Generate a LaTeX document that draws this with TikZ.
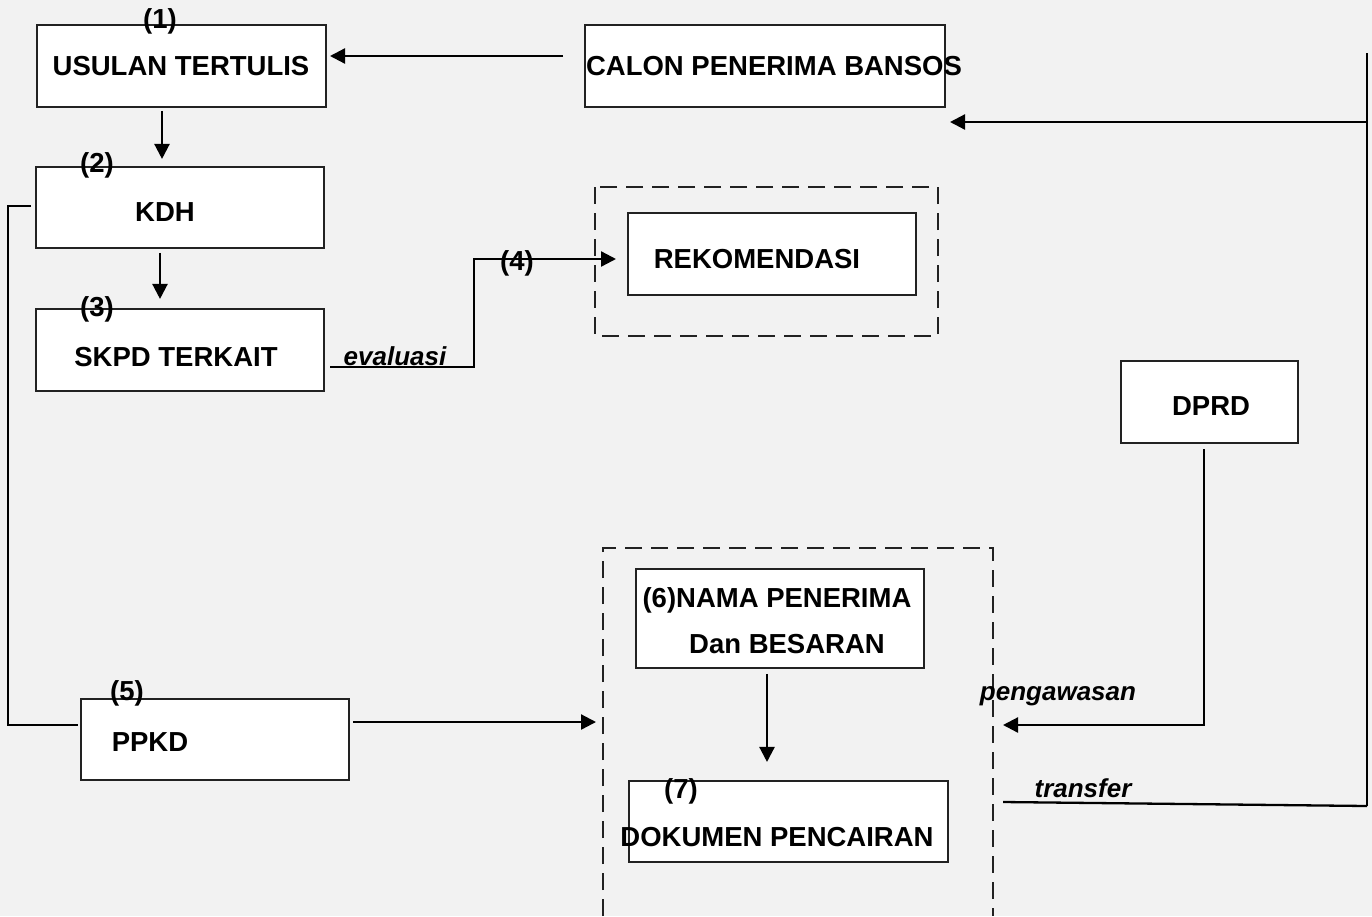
\documentclass[tikz,border=0pt]{standalone}
\usepackage{fontspec}
\setmainfont{Liberation Sans}
\usetikzlibrary{arrows.meta}
\definecolor{bg}{HTML}{F2F2F2}
\definecolor{edge}{HTML}{222222}
\tikzset{
  box/.style={draw=edge, fill=white, line width=1.9pt, inner sep=0pt},
  txt/.style={font=\fontsize{27.5}{30}\selectfont\bfseries, inner sep=0pt, anchor=base},
  itx/.style={font=\fontsize{26}{30}\selectfont\bfseries\itshape, inner sep=0pt, anchor=base},
  ln/.style={line width=2.3pt, black},
  arr/.style={ln, -{Triangle[length=15pt,width=15pt]}},
  dsh/.style={line width=1.7pt, edge, dash pattern=on 17pt off 9pt}
}
\begin{document}
\begin{tikzpicture}[x=1pt,y=-1pt]
\fill[bg] (0,0) rectangle (1372,916);
\useasboundingbox (0,0) rectangle (1372,916);
% dashed groups
\draw[dsh] (595,187) rectangle (938,336);
\draw[dsh] (603,916) -- (603,548) -- (993,548) -- (993,916);
% boxes
\node[box, minimum width=289pt, minimum height=82pt] (usulan) at (181.5,66) {};
\node[box, minimum width=360pt, minimum height=82pt] (calon) at (765,66) {};
\node[box, minimum width=288pt, minimum height=81pt] (kdh) at (180,207.5) {};
\node[box, minimum width=288pt, minimum height=82pt] (skpd) at (180,350) {};
\node[box, minimum width=288pt, minimum height=82pt] (reko) at (772,254) {};
\node[box, minimum width=177pt, minimum height=82pt] (dprd) at (1209.5,402) {};
\node[box, minimum width=288pt, minimum height=99pt] (nama) at (780,618.5) {};
\node[box, minimum width=319pt, minimum height=81pt] (dok) at (788.5,821.5) {};
\node[box, minimum width=268pt, minimum height=81pt] (ppkd) at (215,739.5) {};
% texts
\node[txt] (t1) at (160,28) {(1)};
\node[txt] (tus) at (181,75) {USULAN TERTULIS};
\node[txt] (t2) at (97,172) {(2)};
\node[txt] (tkdh) at (165,221) {KDH};
\node[txt] (t3) at (97,316) {(3)};
\node[txt] (tskpd) at (176,366) {SKPD TERKAIT};
\node[itx] (teval) at (395,365) {evaluasi};
\node[txt] (t4) at (517,270) {(4)};
\node[txt] (treko) at (757,268) {REKOMENDASI};
\node[txt] (tcalon) at (774,75) {CALON PENERIMA BANSOS};
\node[txt] (tdprd) at (1211,415) {DPRD};
\node[txt] (tnama) at (777,607) {(6)NAMA PENERIMA};
\node[txt] (tdan) at (787,653) {Dan BESARAN};
\node[txt] (t7) at (681,798) {(7)};
\node[txt] (tdok) at (777,846) {DOKUMEN PENCAIRAN};
\node[txt] (t5) at (127,700) {(5)};
\node[txt] (tppkd) at (150,751) {PPKD};
\node[itx] (tpeng) at (1058,700) {pengawasan};
\node[itx] (ttrans) at (1083,797) {transfer};
% free ends
\coordinate (c1) at (563,56);
\coordinate (c2) at (330,56);
\coordinate (r1) at (1367,53);
\coordinate (r2) at (1367,122);
\coordinate (r3) at (950,122);
\coordinate (r4) at (1367,806);
\coordinate (tr) at (1003,802);
\coordinate (k1) at (31,206);
\coordinate (k2) at (8,206);
\coordinate (k3) at (8,725);
\coordinate (k4) at (78,725);
\coordinate (e1) at (330,367);
\coordinate (e2) at (474,367);
\coordinate (e3) at (474,259);
\coordinate (e4) at (616,259);
\coordinate (p1) at (353,722);
\coordinate (p2) at (596,722);
\coordinate (d1) at (1204,449);
\coordinate (d2) at (1204,725);
\coordinate (d3) at (1003,725);
% connectors
\draw[arr] (c1) -- (c2);
\draw[arr] ([yshift=-3pt]usulan.south) ++(-19.5,0) -- ++(0,48);
\draw[arr] ([yshift=-4pt]kdh.south) ++(-20,0) -- ++(0,46);
\draw[ln] (r1) -- (r4);
\draw[arr] (r2) -- (r3);
\draw[ln] (tr) -- (r4);
\draw[ln] (k1) -- (k2) -- (k3) -- (k4);
\draw[arr] (e1) -- (e2) -- (e3) -- (e4);
\draw[arr] (p1) -- (p2);
\draw[arr] (d1) -- (d2) -- (d3);
\draw[arr] ([yshift=-5pt]nama.south) ++(-13,0) -- ++(0,88);
\end{tikzpicture}
\end{document}
